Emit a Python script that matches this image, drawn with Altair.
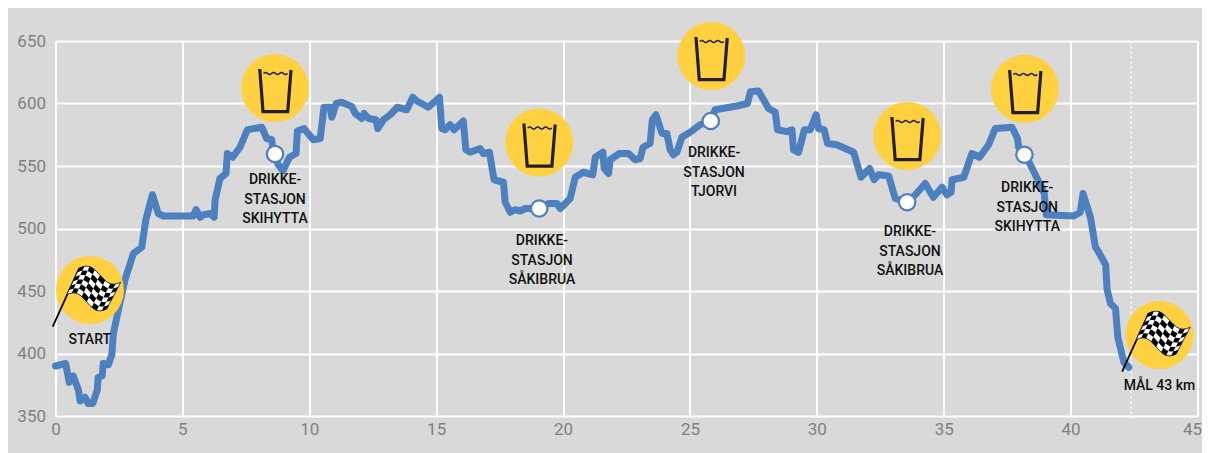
import math
import altair as alt
import pandas as pd

km = [0.0,0.40,0.54,0.70,0.90,0.97,1.16,1.29,1.47,1.65,1.68,1.84,1.88,2.08,2.22,2.28,2.48,2.74,3.07,3.40,3.50,3.56,3.82,4.05,4.25,5.43,5.54,5.70,5.83,6.09,6.25,6.29,6.48,6.72,6.77,6.98,7.27,7.56,8.13,8.32,8.52,8.58,8.78,8.96,9.22,9.48,9.53,9.79,10.16,10.43,10.58,10.82,10.89,11.06,11.28,11.68,11.81,12.07,12.16,12.33,12.63,12.70,12.92,13.19,13.47,13.84,14.08,14.24,14.69,15.13,15.22,15.35,15.55,15.71,16.07,16.17,16.34,16.73,16.86,17.10,17.28,17.65,17.72,17.92,18.11,18.31,18.51,19.06,19.42,19.76,19.89,20.28,20.48,20.80,21.17,21.27,21.57,21.62,21.79,21.86,22.22,22.58,22.84,23.04,23.15,23.43,23.52,23.66,23.90,24.09,24.22,24.35,24.49,24.68,25.01,25.40,25.82,25.99,26.85,27.27,27.38,27.70,28.10,28.36,28.45,28.82,29.02,29.08,29.28,29.51,29.74,29.97,30.07,30.29,30.42,30.79,31.45,31.74,32.08,32.26,32.43,32.83,33.09,33.55,33.88,34.27,34.59,34.93,35.13,35.29,35.33,35.79,36.11,36.41,36.77,37.03,37.69,37.91,37.95,38.22,38.61,38.96,39.04,40.12,40.38,40.49,40.78,40.98,41.05,41.38,41.44,41.57,41.77,41.86,42.10,42.29]
elevation = [390,392,377,382,371,362,365,360,360,371,381,382,392,391,399,416,435,459,480,485,499,507,527,512,510,510,515,509,511,512,509,523,540,544,560,557,565,579,581,572,571,561,551,546,557,560,578,580,571,572,597,597,589,600,601,597.5,592,588,592,588,587,580,587,591,597,595,605,602,597,605,580,579,583,579,586,563,561,564,560,561,539,537,521,513,515,514,516,516,520,520,516,524,541,545,543,557,561,548,544,555,560,560,555,556,565,568,587,591,576,576,563,559,561,573,577,583,586,595,598,600,609.5,610,596,593,579,577.5,579,563,561,579,579,591,580,579,568,567,561,541,548,539,543,542,524,521,527,536,525,533,527,529,539,541,560,557,567,580,581,572,565,559,543,528,511,510,513,528,509,485,483,471,451,440,436,413,393,389]

station_km = [8.65,19.06,25.82,33.56,38.18]
station_m = [559.6,516,586,521,559]

glass_km = [8.65,19.06,25.84,33.56,38.2]
glass_m = [612.4,568.8,638,574,611.6]
flag_km = [1.36,43.5]
flag_m = [450.8,414.8]

label_text = ["DRIKKE-\nSTASJON\nSKIHYTTA","DRIKKE-\nSTASJON\nSÅKIBRUA","DRIKKE-\nSTASJON\nTJORVI","DRIKKE-\nSTASJON\nSÅKIBRUA","DRIKKE-\nSTASJON\nSKIHYTTA","START","MÅL 43 km"]
label_km = [8.65,19.17,25.95,33.67,38.29,1.35,43.5]
label_m = [538.8,490,560.4,497,532.4,410.8,374]

x_ticks = [0,5,10,15,20,25,30,35,40,45]
y_ticks = [350,400,450,500,550,600,650]
finish_km = [42.39]

BLUE = "#4D80BE"
YELLOW = "#FFD040"
DARK = "#231F20"
FONT = "Roboto"

# Icon outlines, as custom symbols (units are px with size=4)
glass_body = "M-15.3,-19L-12,23.7L12.7,23.7L16,-18"
wave = "M-11.5,-14.5" + "".join(f"Q{-11.5+i*4+2:.1f},{-12.5 if i%2 else -16.5} {-11.5+(i+1)*4:.1f},-14.5" for i in range(6))


def flag_pt(u, v):
    tx = -10.7 + u * 41.4
    ty = -22 + u * 14.3 - 5 * math.sin(2 * math.pi * u)
    bx = -23.3 + u * 40
    by = 4.7 + u * 14.3 - 5 * math.sin(2 * math.pi * u)
    return (tx + (bx - tx) * v, ty + (by - ty) * v)


def quad(u0, u1, v0, v1, n=3):
    pts = [flag_pt(u0 + (u1 - u0) * i / n, v0) for i in range(n + 1)]
    pts += [flag_pt(u1, v0 + (v1 - v0) * i / n) for i in range(1, n + 1)]
    pts += [flag_pt(u1 - (u1 - u0) * i / n, v1) for i in range(1, n + 1)]
    pts += [flag_pt(u0, v1 - (v1 - v0) * i / n) for i in range(1, n)]
    return "M" + "L".join(f"{x:.1f},{y:.1f}" for x, y in pts) + "Z"


NU, NV = 8, 6
flag_white = quad(0, 1, 0, 1, 12)
flag_black = "".join(
    quad(i / NU, (i + 1) / NU, j / NV, (j + 1) / NV)
    for i in range(NU) for j in range(NV) if (i + j) % 2 == 0
)
flag_pole = "M-37.3,36.7L-10.7,-22"

x_scale = alt.Scale(domain=[0, 45], nice=False, zero=False)
y_scale = alt.Scale(domain=[350, 650], nice=False, zero=False)
x_axis = alt.Axis(
    values=x_ticks, title=None, grid=True, gridColor="white", gridWidth=2, ticks=False,
    domain=False, labelFont=FONT, labelFontSize=17, labelColor="#808080", labelPadding=5,
    labelFlush=False, labelOverlap=False, labelAngle=0,
    labelAlign=alt.expr("datum.value == 45 ? 'right' : 'center'"),
    labelOffset=alt.expr("datum.value == 45 ? 4 : 0"))
y_axis = alt.Axis(
    values=y_ticks, title=None, grid=True, gridColor="white", gridWidth=2, ticks=False,
    domain=False, labelFont=FONT, labelFontSize=17, labelColor="#808080", labelPadding=10,
    labelFlush=False, labelOverlap=False)
X = alt.X("km:Q", scale=x_scale, axis=x_axis)
Y = alt.Y("m:Q", scale=y_scale, axis=y_axis)

route = pd.DataFrame({"km": km, "m": elevation})
stations = pd.DataFrame({"km": station_km, "m": station_m})
glasses = pd.DataFrame({"km": glass_km, "m": glass_m})
flags = pd.DataFrame({"km": flag_km, "m": flag_m})
labels = pd.DataFrame({"km": label_km, "m": label_m, "text": label_text})
finish = pd.DataFrame({"km": finish_km, "m": [348], "y1": [652]})

finish_line = alt.Chart(finish).mark_rule(color="white", strokeWidth=1.5, strokeDash=[2, 3], clip=False).encode(
    x=X, y=Y, y2="y1:Q")

line = alt.Chart(route).mark_line(color=BLUE, strokeWidth=7, strokeJoin="round", strokeCap="round").encode(
    x=X, y=Y, order=alt.Order("km:Q"))


def symbols(df, shape, size=4, **kw):
    return alt.Chart(df).mark_point(shape=shape, size=size, opacity=1, **kw).encode(x=X, y=Y)


discs_g = alt.Chart(glasses).mark_circle(color=YELLOW, size=4624, opacity=1).encode(x=X, y=Y)
discs_f = alt.Chart(flags).mark_circle(color=YELLOW, size=4624, opacity=1).encode(x=X, y=Y)
body = symbols(glasses, glass_body, filled=False, stroke=DARK, strokeWidth=3.2, strokeJoin="miter")
water = symbols(glasses, wave, filled=False, stroke=DARK, strokeWidth=1.6)
pole = symbols(flags, flag_pole, filled=False, stroke="black", strokeWidth=1.8)
f_white = symbols(flags, flag_white, filled=True, fill="white", stroke="black", strokeWidth=0.8)
f_black = symbols(flags, flag_black, filled=True, fill="black", strokeWidth=0)

dots = alt.Chart(stations).mark_circle(color="white", size=269, opacity=1, stroke=BLUE, strokeWidth=2.2).encode(x=X, y=Y)

text = alt.Chart(labels).mark_text(font=FONT, fontSize=14, fontWeight=500, color="#111111", align="center", baseline="middle",
                                   lineBreak="\n", lineHeight=19.5).encode(x=X, y=Y, text="text:N")

chart = alt.layer(finish_line, line, discs_g, discs_f, body, water, pole, f_white, f_black, dots, text).properties(
    width=1142, height=375,
    autosize=alt.AutoSizeParams(type="none"),
    padding={"left": 47.5, "top": 33, "right": 4.5, "bottom": 37},
    background="#D9D9D9",
).configure_view(stroke=None)

chart.save("out.html", embed_options={"renderer": "svg", "actions": False})
